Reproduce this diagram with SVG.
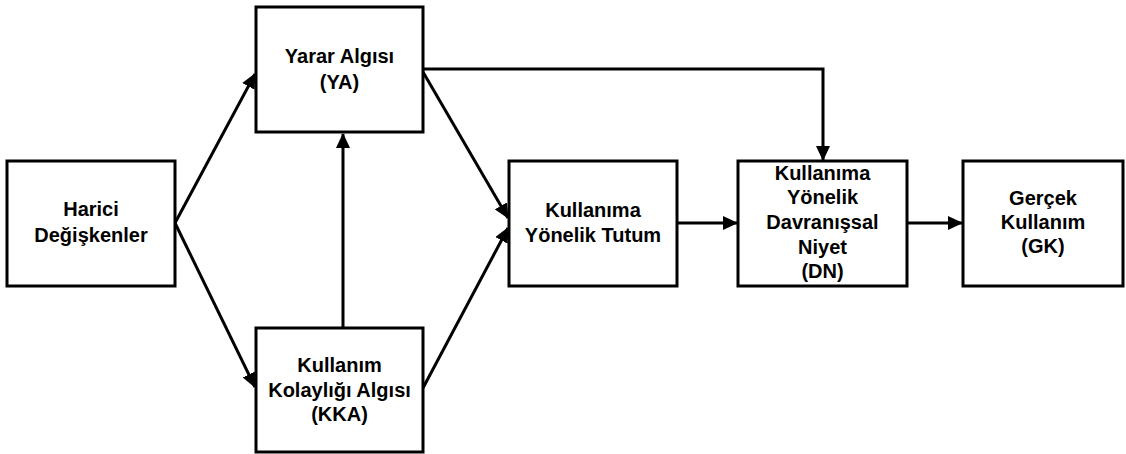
<svg xmlns="http://www.w3.org/2000/svg" width="1126" height="454" viewBox="0 0 1126 454">
<style>
.box{fill:#fff;stroke:#000;stroke-width:3}
.lbl{font-family:"Liberation Sans",Arial,sans-serif;font-weight:bold;font-size:20px;fill:#000;text-anchor:middle}
.con{fill:none;stroke:#000;stroke-width:3;marker-end:url(#ah)}
</style>
<defs>
<marker id="ah" markerUnits="userSpaceOnUse" markerWidth="15" markerHeight="14" refX="14" refY="7" orient="auto">
<path d="M0,0 L15,7 L0,14 Z" fill="#000"/>
</marker>
</defs>
<g id="connectors">
<line class="con" x1="175" y1="223" x2="255" y2="74"/>
<line class="con" x1="175" y1="223" x2="255" y2="387"/>
<line class="con" x1="423" y1="72" x2="508" y2="218"/>
<line class="con" x1="423" y1="388" x2="508" y2="228"/>
<line class="con" x1="343" y1="328" x2="343" y2="134"/>
<polyline class="con" points="423,69 823,69 823,160"/>
<line class="con" x1="677" y1="223" x2="737" y2="223"/>
<line class="con" x1="907" y1="223" x2="962" y2="223"/>
</g>
<g id="harici">
<rect class="box" x="7" y="161" width="168" height="125"/>
<text class="lbl" x="91" y="216">Harici<tspan x="91" y="241.5">Değişkenler</tspan></text>
</g>
<g id="ya">
<rect class="box" x="256" y="7" width="167" height="125"/>
<text class="lbl" x="339.5" y="63">Yarar Algısı<tspan x="339.5" y="89">(YA)</tspan></text>
</g>
<g id="kka">
<rect class="box" x="256" y="328" width="167" height="124"/>
<text class="lbl" x="339.5" y="372">Kullanım<tspan x="339.5" y="397">Kolaylığı Algısı</tspan><tspan x="339.5" y="421">(KKA)</tspan></text>
</g>
<g id="kyt">
<rect class="box" x="509" y="161" width="168" height="125"/>
<text class="lbl" x="593" y="216.5">Kullanıma<tspan x="593" y="241.5">Yönelik Tutum</tspan></text>
</g>
<g id="dn">
<rect class="box" x="738" y="161" width="169" height="125"/>
<text class="lbl" x="822.5" y="180">Kullanıma<tspan x="822.5" y="204">Yönelik</tspan><tspan x="822.5" y="229">Davranışsal</tspan><tspan x="822.5" y="254">Niyet</tspan><tspan x="822.5" y="278">(DN)</tspan></text>
</g>
<g id="gk">
<rect class="box" x="963" y="161" width="160" height="125"/>
<text class="lbl" x="1043" y="205">Gerçek<tspan x="1043" y="229">Kullanım</tspan><tspan x="1043" y="253">(GK)</tspan></text>
</g>
</svg>
